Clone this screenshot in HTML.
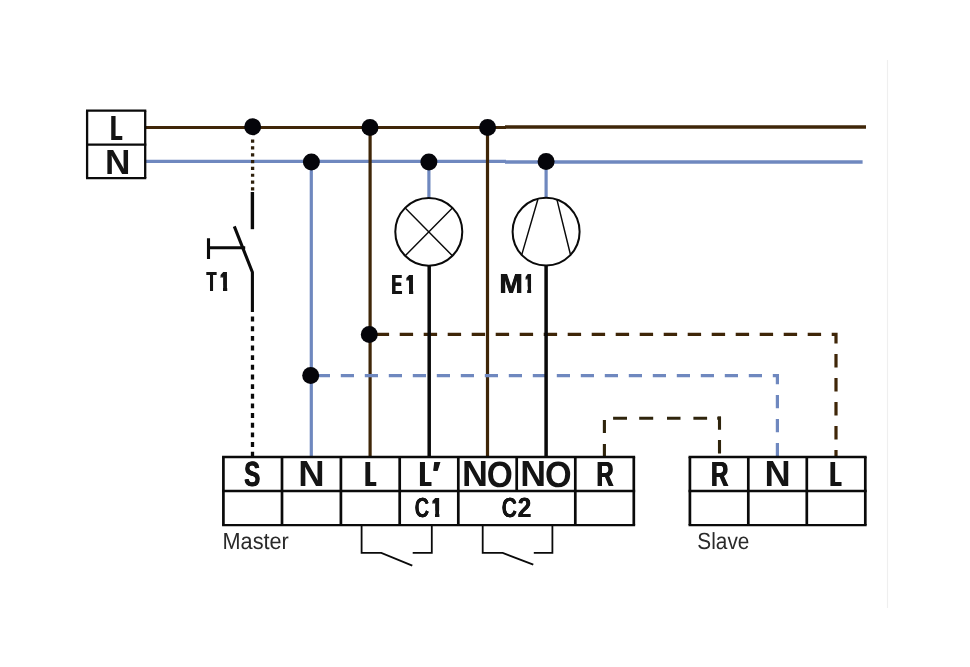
<!DOCTYPE html>
<html lang="en"><head><meta charset="utf-8"><title>Master / Slave wiring diagram</title>
<style>html,body{margin:0;padding:0;background:#fff;}body{width:970px;height:667px;overflow:hidden;}#d{position:relative;width:970px;height:667px;overflow:hidden;background:#fff;font-family:"Liberation Sans",sans-serif;}#d svg{position:absolute;left:0;top:0;display:block;}.t{position:absolute;left:0;top:0;display:block;white-space:nowrap;line-height:1;transform-origin:0 0;text-rendering:geometricPrecision;}#tx{position:absolute;left:0;top:0;width:970px;height:667px;will-change:transform;}</style></head><body>
<div id="d">
<svg width="970" height="667" viewBox="0 0 970 667">
<line x1="887.5" y1="60" x2="887.5" y2="608" stroke="#efefef" stroke-width="1.2"/>
<g fill="none" stroke-linecap="butt">
<path d="M146 161.4H506" stroke="#6f88bf" stroke-width="3.2"/>
<path d="M505 162H862.6" stroke="#6f88bf" stroke-width="3.4"/>
<path d="M311.3 162V457" stroke="#6f88bf" stroke-width="3.2"/>
<path d="M428.9 162V198" stroke="#6f88bf" stroke-width="3.2"/>
<path d="M546.1 162V198" stroke="#6f88bf" stroke-width="3.2"/>
<path d="M146 127.5H506" stroke="#3f2608" stroke-width="3.2"/>
<path d="M505 127.1H866" stroke="#3f2608" stroke-width="3.5"/>
<path d="M370.1 127.5V457" stroke="#3f2608" stroke-width="3.2"/>
<path d="M487.5 127.5V457" stroke="#3f2608" stroke-width="3.2"/>
<path d="M316.8 375.6H777.4V457" stroke="#6f88bf" stroke-width="3.2" stroke-dasharray="13.2 10.8"/>
<path d="M375.7 334.3H836V457" stroke="#3f2608" stroke-width="3.2" stroke-dasharray="13.4 10.6"/>
<path d="M604.4 456.5L604.4 444.1M604.4 432.9L604.4 420M613.1 418.2L627 418.2M639.2 418.2L653.2 418.2M667 418.2L680.5 418.2M693.4 418.2L707.1 418.2M719.5 416.6L719.5 429.7M719.5 440L719.5 453.6" stroke="#2f240c" stroke-width="3.1"/>
<path d="M717.2 418.2H721" stroke="#2f240c" stroke-width="3.1"/>
<path d="M252.6 139.55V191" stroke="#2e200c" stroke-width="3.3" stroke-dasharray="3.2 3.62"/>
<path d="M252.4 192V229.2" stroke="#0a0a0a" stroke-width="3.4"/>
<path d="M234.3 226.4L252.4 272.3V311.9" stroke="#0a0a0a" stroke-width="3.1" stroke-linejoin="miter"/>
<path d="M208.5 247.8H245.2M208.5 238.3V259" stroke="#0a0a0a" stroke-width="3.1"/>
<path d="M252.5 316.6V457" stroke="#0a0a0a" stroke-width="3.3" stroke-dasharray="4.9 4.75"/>
<path d="M429.2 265.5V457M546.1 265.5V457" stroke="#0a0a0a" stroke-width="3.5"/>
<ellipse cx="428.8" cy="231.8" rx="33.5" ry="33.9" stroke="#0a0a0a" stroke-width="2" fill="#fff"/>
<path d="M405.2 207.9L452.4 255.8M452.4 207.9L405.2 255.8" stroke="#0a0a0a" stroke-width="1.4"/>
<ellipse cx="546.1" cy="231.7" rx="33.5" ry="33.9" stroke="#0a0a0a" stroke-width="2" fill="#fff"/>
<path d="M537.9 199.2L521.8 254.6M557 199.9L570.3 254" stroke="#0a0a0a" stroke-width="1.45"/>
<path d="M86 110.7H146.3M86 178.1H146.3M86 144.6H146.3" stroke="#0a0a0a" stroke-width="2.3"/>
<path d="M87.1 110.7V178.1M145.2 110.7V178.1" stroke="#0a0a0a" stroke-width="2.3"/>
<path d="M222.05 457.0H635.15M222.05 491.0H635.15M222.05 525.1H635.15" stroke="#0a0a0a" stroke-width="2.4"/>
<path d="M223.4 457.0V525.1M282 457.0V525.1M340.9 457.0V525.1M399.7 457.0V525.1M458.3 457.0V525.1M516.7 457.0V491.0M575.3 457.0V525.1M633.8 457.0V525.1" stroke="#0a0a0a" stroke-width="2.7"/>
<path d="M688.55 457.0H866.65M688.55 491.0H866.65M688.55 525.1H866.65" stroke="#0a0a0a" stroke-width="2.4"/>
<path d="M689.9 457.0V525.1M748.3 457.0V525.1M806.8 457.0V525.1M865.3 457.0V525.1" stroke="#0a0a0a" stroke-width="2.7"/>
<path d="M361.6 525.1V552.9H381.3L412.3 565.6M412.7 552.9H431.8V525.1" stroke="#0a0a0a" stroke-width="1.8"/>
<path d="M482.7 525.1V552.9H502.7L533.3 564.6M533.8 552.9H552.4V525.1" stroke="#0a0a0a" stroke-width="1.8"/>
</g>
<circle cx="252.7" cy="126.8" r="8.5" fill="#05050a"/>
<circle cx="370" cy="127.5" r="8.5" fill="#05050a"/>
<circle cx="487.6" cy="127.5" r="8.5" fill="#05050a"/>
<circle cx="311.4" cy="162" r="8.5" fill="#05050a"/>
<circle cx="428.9" cy="162" r="8.5" fill="#05050a"/>
<circle cx="546.1" cy="161.4" r="8.5" fill="#05050a"/>
<circle cx="369.3" cy="334.4" r="8.5" fill="#05050a"/>
<circle cx="310.7" cy="375.5" r="8.5" fill="#05050a"/>
</svg>
<div id="tx">
<span class="w" style="font-weight:700;color:#141414"><span class="t" style="font-size:34.96px;transform:translate(110.85px,112.00px) scaleX(0.5193);text-shadow:1.73px 0 0 #141414,-1.73px 0 0 #141414;">L</span></span>
<span class="w" style="font-weight:700;color:#141414"><span class="t" style="font-size:34.96px;transform:translate(104.88px,146.00px) scaleX(1.0067);">N</span></span>
<span class="w" style="font-weight:700;color:#141414"><span class="t" style="font-size:27.69px;transform:translate(206.57px,268.00px) scaleX(0.5792);text-shadow:0.69px 0 0 #141414,-0.69px 0 0 #141414;">T</span><span class="t" style="font-size:27.69px;transform:translate(220.42px,268.00px) scaleX(0.5568);text-shadow:1.62px 0 0 #141414,-1.62px 0 0 #141414;clip-path:polygon(-1em -1em,2em -1em,2em .6em,0.4330em .6em,0.4330em 2em,0.1710em 2em,0.1710em .6em,-1em .6em);">1</span></span>
<span class="w" style="font-weight:700;color:#141414"><span class="t" style="font-size:27.69px;transform:translate(391.68px,271.00px) scaleX(0.5626);text-shadow:1.07px 0 0 #141414,-1.07px 0 0 #141414;">E</span><span class="t" style="font-size:27.69px;transform:translate(406.20px,271.00px) scaleX(0.5823);text-shadow:1.46px 0 0 #141414,-1.46px 0 0 #141414;clip-path:polygon(-1em -1em,2em -1em,2em .6em,0.4273em .6em,0.4273em 2em,0.1767em 2em,0.1767em .6em,-1em .6em);">1</span></span>
<span class="w" style="font-weight:700;color:#141414"><span class="t" style="font-size:27.69px;transform:translate(499.34px,270.00px) scaleX(1.0167);text-shadow:0.30px 0 0 #141414,-0.30px 0 0 #141414;">M</span><span class="t" style="font-size:27.69px;transform:translate(525.60px,270.00px) scaleX(0.4420);text-shadow:2.04px 0 0 #141414,-2.04px 0 0 #141414;clip-path:polygon(-1em -1em,2em -1em,2em .6em,0.4481em .6em,0.4481em 2em,0.1559em 2em,0.1559em .6em,-1em .6em);">1</span></span>
<span class="w" style="font-weight:700;color:#141414"><span class="t" style="font-size:34.96px;transform:translate(244.18px,458.00px) scaleX(0.6827);text-shadow:0.73px 0 0 #141414,-0.73px 0 0 #141414;">S</span></span>
<span class="w" style="font-weight:700;color:#141414"><span class="t" style="font-size:36.41px;transform:translate(298.34px,456.00px) scaleX(1.0027);">N</span></span>
<span class="w" style="font-weight:700;color:#141414"><span class="t" style="font-size:34.96px;transform:translate(365.56px,458.00px) scaleX(0.4697);text-shadow:2.55px 0 0 #141414,-2.55px 0 0 #141414;">L</span></span>
<span class="w" style="font-weight:700;color:#141414"><span class="t" style="font-size:34.96px;transform:translate(420.04px,458.00px) scaleX(0.5059);text-shadow:2.37px 0 0 #141414,-2.37px 0 0 #141414;">L</span><span class="t" style="font-size:34.96px;transform:translate(432.27px,458.00px) scaleX(0.9873);text-shadow:0.51px 0 0 #141414,-0.51px 0 0 #141414;">′</span></span>
<span class="w" style="font-weight:700;color:#141414"><span class="t" style="font-size:36.41px;transform:translate(461.93px,456.00px) scaleX(0.9860);">N</span><span class="t" style="font-size:36.41px;transform:translate(486.77px,457.00px) scaleX(0.9202);">O</span></span>
<span class="w" style="font-weight:700;color:#141414"><span class="t" style="font-size:36.41px;transform:translate(520.22px,456.00px) scaleX(0.9820);">N</span><span class="t" style="font-size:36.41px;transform:translate(545.07px,457.00px) scaleX(0.9409);">O</span></span>
<span class="w" style="font-weight:700;color:#141414"><span class="t" style="font-size:34.96px;transform:translate(596.44px,458.00px) scaleX(0.6782);text-shadow:0.74px 0 0 #141414,-0.74px 0 0 #141414;">R</span></span>
<span class="w" style="font-weight:700;color:#141414"><span class="t" style="font-size:27.69px;transform:translate(414.65px,494.00px) scaleX(0.7235);text-shadow:0.28px 0 0 #141414,-0.28px 0 0 #141414;">C</span><span class="t" style="font-size:27.69px;transform:translate(432.15px,494.00px) scaleX(0.5982);text-shadow:1.34px 0 0 #141414,-1.34px 0 0 #141414;clip-path:polygon(-1em -1em,2em -1em,2em .6em,0.4229em .6em,0.4229em 2em,0.1811em 2em,0.1811em .6em,-1em .6em);">1</span></span>
<span class="w" style="font-weight:700;color:#141414"><span class="t" style="font-size:27.69px;transform:translate(501.67px,494.00px) scaleX(0.7660);text-shadow:0.26px 0 0 #141414,-0.26px 0 0 #141414;">C</span><span class="t" style="font-size:27.69px;transform:translate(517.76px,494.00px) scaleX(0.8783);text-shadow:0.23px 0 0 #141414,-0.23px 0 0 #141414;">2</span></span>
<span class="w" style="font-weight:700;color:#141414"><span class="t" style="font-size:34.96px;transform:translate(710.91px,458.00px) scaleX(0.6914);text-shadow:0.72px 0 0 #141414,-0.72px 0 0 #141414;">R</span></span>
<span class="w" style="font-weight:700;color:#141414"><span class="t" style="font-size:36.41px;transform:translate(764.61px,456.00px) scaleX(0.9950);">N</span></span>
<span class="w" style="font-weight:700;color:#141414"><span class="t" style="font-size:34.96px;transform:translate(830.42px,458.00px) scaleX(0.4949);text-shadow:2.42px 0 0 #141414,-2.42px 0 0 #141414;">L</span></span>
<span class="w" style="font-weight:400;color:#2a2a2a"><span class="t" style="font-size:23.33px;transform:translate(222.53px,530.00px) scaleX(0.9293);">Master</span></span>
<span class="w" style="font-weight:400;color:#2a2a2a"><span class="t" style="font-size:23.33px;transform:translate(697.35px,530.00px) scaleX(0.8915);">Slave</span></span>
</div>
</div></body></html>
